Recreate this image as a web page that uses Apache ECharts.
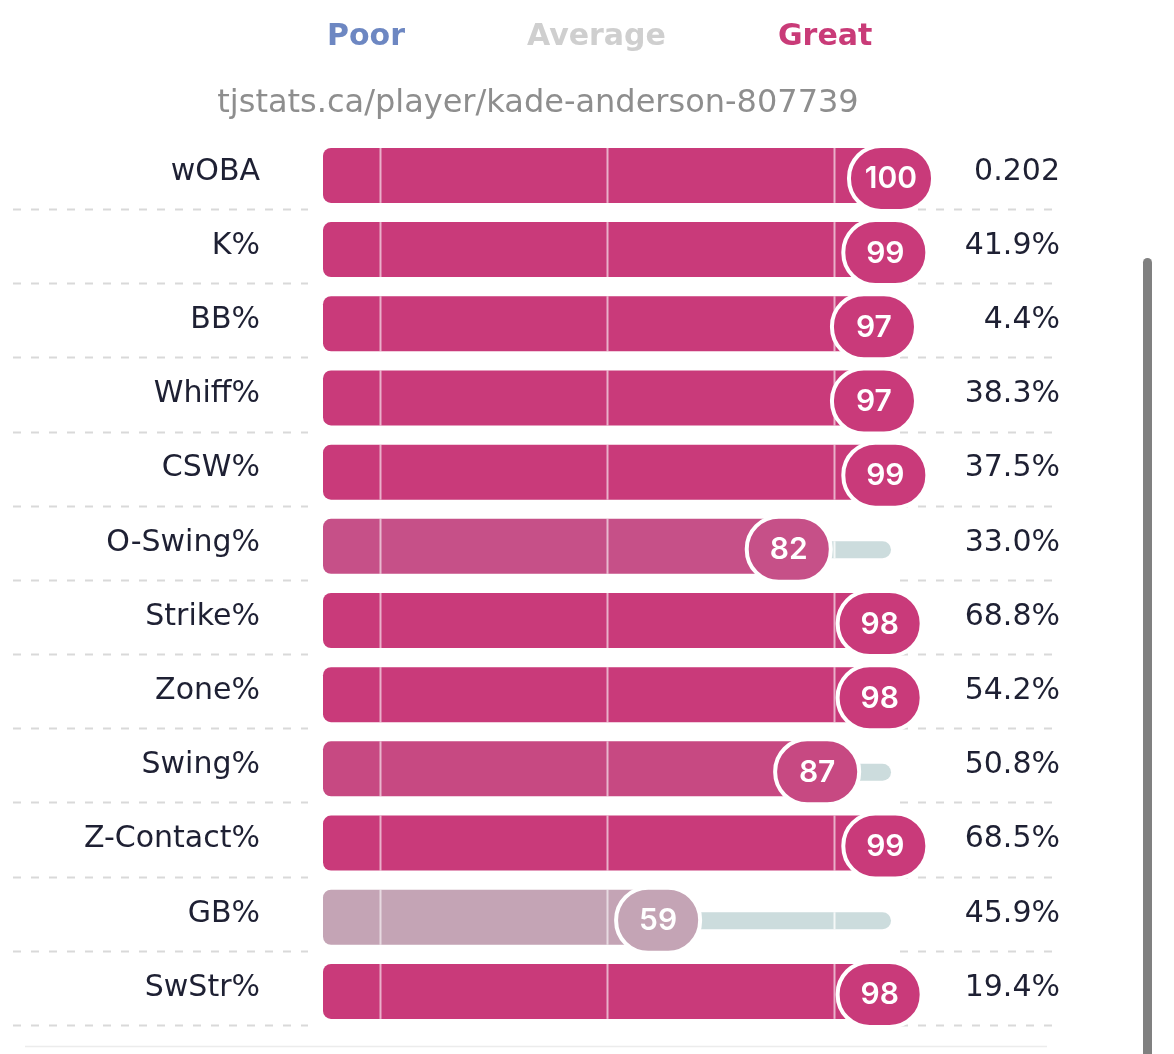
<!DOCTYPE html>
<html>
<head>
<meta charset="utf-8">
<script src="https://cdn.jsdelivr.net/npm/echarts@6/dist/echarts.min.js"></script>
<style>
  html, body { margin: 0; padding: 0; background: #fff; }
  #main { width: 1174px; height: 1054px; }
</style>
</head>
<body>
<div id="main"></div>
<script>
// 数据
var metrics = ['wOBA', 'K%', 'BB%', 'Whiff%', 'CSW%', 'O-Swing%', 'Strike%', 'Zone%', 'Swing%', 'Z-Contact%', 'GB%', 'SwStr%'];
var percentiles = [100, 99, 97, 97, 99, 82, 98, 98, 87, 99, 59, 98];
var statValues = ['0.202', '41.9%', '4.4%', '38.3%', '37.5%', '33.0%', '68.8%', '54.2%', '50.8%', '68.5%', '45.9%', '19.4%'];
var legendItems = ['Poor', 'Average', 'Great'];
var guideTicks = [10, 50, 90];
var playerUrl = 'tjstats.ca/player/kade-anderson-807739';

var FONT = '"DejaVu Sans", sans-serif';
var NUM_FONT = 'Inter, "DejaVu Sans", sans-serif';
// 颜色刻度 (percentile -> rgb)
var colorStops = [
    [0, [109, 135, 194]],
    [50, [205, 200, 203]],
    [59, [196, 164, 181]],
    [82, [198, 80, 136]],
    [87, [199, 73, 130]],
    [97, [201, 58, 122]],
    [100, [201, 58, 122]]
];

function pctColor(v) {
    for (var i = 1; i < colorStops.length; i++) {
        if (v <= colorStops[i][0]) {
            var a = colorStops[i - 1], b = colorStops[i];
            var t = (v - a[0]) / (b[0] - a[0]);
            var c = a[1].map(function (x, k) { return Math.round(x + (b[1][k] - x) * t); });
            return 'rgb(' + c.join(',') + ')';
        }
    }
    return 'rgb(201,58,122)';
}

var rowData = percentiles.map(function (p, i) { return [p, i]; });

var myChart = echarts.init(document.getElementById('main'));

function renderSeparator(params, api) {
    var c = api.coord([0, api.value(1)]);
    var band = api.size([0, 1])[1];
    var gx = params.coordSys.x, gw = params.coordSys.width;
    var y = Math.round(c[1] + band / 2) + 0.5;
    var style = { stroke: '#d9d9d9', lineWidth: 2, lineDash: [8, 10] };
    return {
        type: 'group',
        children: [
            { type: 'line', shape: { x1: gx - 310, y1: y, x2: gx - 15, y2: y }, style: style },
            { type: 'line', shape: { x1: gx + gw + 9, y1: y, x2: gx + gw + 171, y2: y }, style: style }
        ]
    };
}

function renderRow(params, api) {
    var v = api.value(0);
    var idx = api.value(1);
    var p0 = api.coord([0, idx]);
    var pv = api.coord([v, idx]);
    var p100 = api.coord([100, idx]);
    var cy = p0[1];
    var color = pctColor(v);
    var barTop = cy - 24, barH = 55;
    var trackY = cy - 1.5, trackH = 17;
    var children = [];

    // 背景轨道
    children.push({
        type: 'rect',
        shape: { x: p0[0], y: trackY, width: p100[0] - p0[0], height: trackH, r: trackH / 2 },
        style: { fill: '#ccdcdd' }
    });
    // 主条
    children.push({
        type: 'rect',
        shape: { x: p0[0], y: barTop, width: pv[0] - p0[0], height: barH, r: 8 },
        style: { fill: color }
    });
    // 分隔竖线
    guideTicks.forEach(function (t) {
        var x = Math.round(api.coord([t, idx])[0]) + 0.5;
        if (t < v) {
            children.push({ type: 'line', shape: { x1: x, y1: barTop, x2: x, y2: barTop + barH },
                style: { stroke: 'rgba(255,255,255,0.6)', lineWidth: 2 } });
        } else {
            children.push({ type: 'line', shape: { x1: x, y1: trackY, x2: x, y2: trackY + trackH },
                style: { stroke: 'rgba(255,255,255,0.8)', lineWidth: 2 } });
        }
    });
    // 气泡
    var bw = 84, bh = 65, by = cy + 6.5;
    children.push({
        type: 'rect',
        shape: { x: pv[0] - bw / 2, y: by - bh / 2, width: bw, height: bh, r: 32 },
        style: { fill: color, stroke: '#fff', lineWidth: 4 }
    });
    children.push({
        type: 'text',
        x: pv[0], y: by + 1,
        style: {
            text: String(v), fill: '#fff', font: '600 30px ' + NUM_FONT,
            align: 'center', verticalAlign: 'middle'
        }
    });
    return { type: 'group', children: children };
}

var option = {
    animation: false,
    backgroundColor: '#ffffff',
    grid: { left: 323, right: 283, top: 134.8, bottom: 29 },
    xAxis: { type: 'value', min: 0, max: 100, show: false },
    yAxis: [{
        type: 'category',
        inverse: true,
        data: metrics,
        axisLine: { show: false },
        axisTick: { show: false },
        axisLabel: { margin: 63, fontSize: 30, fontFamily: FONT, color: '#1e2033' }
    }, {
        type: 'category',
        inverse: true,
        position: 'right',
        data: statValues,
        axisLine: { show: false },
        axisTick: { show: false },
        axisLabel: { margin: 169, align: 'right', fontSize: 30, fontFamily: FONT, color: '#1e2033' }
    }],
    series: [{
        type: 'custom',
        renderItem: renderSeparator,
        data: rowData,
        z: 1
    }, {
        type: 'custom',
        renderItem: renderRow,
        data: rowData,
        z: 2
    }],
    graphic: [
        { type: 'text', x: 327, y: 37, style: { text: legendItems[0], fill: '#6d87c2', font: 'bold 30px ' + FONT, verticalAlign: 'middle' } },
        { type: 'text', x: 527, y: 37, style: { text: legendItems[1], fill: '#cfcfcf', font: 'bold 30px ' + FONT, verticalAlign: 'middle' } },
        { type: 'text', x: 778, y: 37, style: { text: legendItems[2], fill: '#c93b78', font: 'bold 30px ' + FONT, verticalAlign: 'middle' } },
        { type: 'text', x: 538, y: 104, style: { text: playerUrl, fill: '#8e8e8e', font: '32px ' + FONT, align: 'center', verticalAlign: 'middle' } },
        { type: 'line', shape: { x1: 25, y1: 1046.5, x2: 1047, y2: 1046.5 }, style: { stroke: '#ececec', lineWidth: 1.5 } },
        { type: 'rect', shape: { x: 1143, y: 258, width: 9, height: 820, r: 4.5 }, style: { fill: '#808080' } }
    ]
};

myChart.setOption(option);
</script>
</body>
</html>
